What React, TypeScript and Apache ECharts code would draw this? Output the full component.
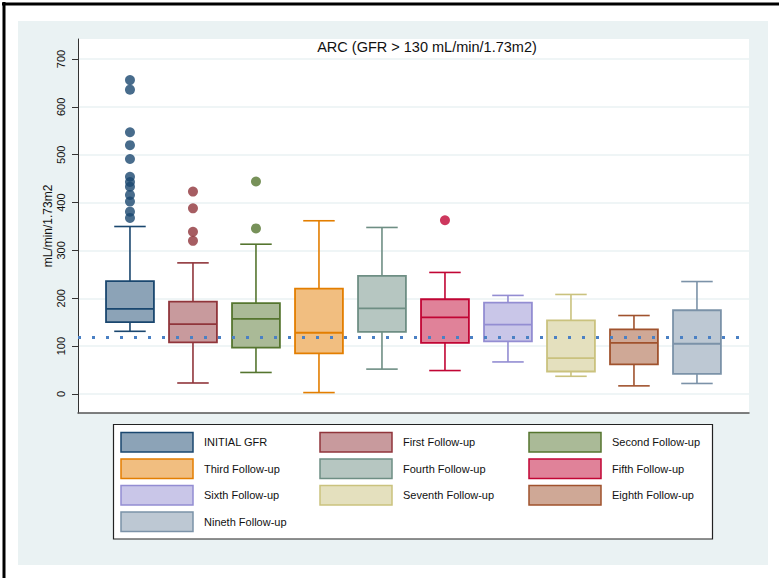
import { useEffect, useRef } from "react";
import * as echarts from "echarts";

// Groups shown along the x axis (one box per visit)
const groups = [
  "INITIAL GFR",
  "First Follow-up",
  "Second Follow-up",
  "Third Follow-up",
  "Fourth Follow-up",
  "Fifth Follow-up",
  "Sixth Follow-up",
  "Seventh Follow-up",
  "Eighth Follow-up",
  "Nineth Follow-up",
];

// Box statistics per group (mL/min/1.73m2)
const lowerWhisker = [131, 23, 45, 3, 52, 49, 67, 37, 17, 22];
const q1 = [150, 108, 97, 85, 130, 107, 110, 47, 62, 42];
const median = [178, 146, 157, 128, 179, 160, 145, 75, 107, 105];
const q3 = [236, 193, 190, 220, 247, 198, 191, 154, 135, 175];
const upperWhisker = [350, 274, 313, 362, 348, 254, 206, 208, 164, 235];

// Outside values per group
const outliers: number[][] = [
  [656, 636, 547, 520, 491, 454, 443, 433, 416, 402, 381, 368],
  [423, 388, 339, 320],
  [444, 346],
  [],
  [],
  [363],
  [],
  [],
  [],
  [],
];

const yTicks = [0, 100, 200, 300, 400, 500, 600, 700];
const referenceValue = 118;

const chartTitle = "ARC (GFR > 130 mL/min/1.73m2)";
const yAxisTitle = "mL/min/1.73m2";

// Stata s2color palette: outline colour and 50% tint for the fill
const lineColors = [
  "#1a476f",
  "#90353b",
  "#55752f",
  "#e37e00",
  "#6e8e84",
  "#c10534",
  "#938dd2",
  "#cac27e",
  "#a0522d",
  "#7b92a8",
];
const fillColors = [
  "#8ca3b7",
  "#c89a9d",
  "#aaba97",
  "#f1be80",
  "#b6c6c1",
  "#e08299",
  "#c9c6e8",
  "#e4e0be",
  "#cfa896",
  "#bdc8d3",
];

const FONT = "'Liberation Sans', Arial, Helvetica, sans-serif";

export default function App() {
  const ref = useRef<HTMLDivElement>(null);

  useEffect(() => {
    if (!ref.current) return;
    const chart = echarts.init(ref.current, undefined, { renderer: "svg" });

    const boxData = groups.map((_, i) => [
      i,
      lowerWhisker[i],
      q1[i],
      median[i],
      q3[i],
      upperWhisker[i],
    ]);

    const outlierData: any[] = [];
    outliers.forEach((vals, i) =>
      vals.forEach((v) =>
        outlierData.push({ value: [i, v], itemStyle: { color: lineColors[i] } })
      )
    );

    const xMin = -0.825;
    const xMax = 9.826;

    // Legend: three columns of swatch + label inside a framed box
    const legendCols = [121, 320, 529];
    const legendRows = [432.5, 459, 485.5, 512];
    const swW = 72;
    const swH = 19.5;
    const legendChildren: any[] = [
      {
        type: "rect",
        shape: { x: 113.5, y: 424.5, width: 599, height: 114.5 },
        style: { fill: "#ffffff", stroke: "#222", lineWidth: 1.2 },
      },
    ];
    groups.forEach((name, k) => {
      const col = k % 3;
      const row = Math.floor(k / 3);
      const x = legendCols[col];
      const y = legendRows[row];
      legendChildren.push({
        type: "rect",
        shape: { x, y, width: swW, height: swH },
        style: { fill: fillColors[k], stroke: lineColors[k], lineWidth: 1.5 },
      });
      legendChildren.push({
        type: "text",
        x: x + 83,
        y: y + swH / 2,
        style: {
          text: name,
          fill: "#111",
          font: `11px ${FONT}`,
          textVerticalAlign: "middle",
          textAlign: "left",
        },
      });
    });

    chart.setOption({
      animation: false,
      backgroundColor: "#ffffff",
      textStyle: { fontFamily: FONT },
      graphic: [
        {
          type: "rect",
          z: -10,
          shape: { x: 18, y: 21, width: 750, height: 544 },
          style: { fill: "#eaf2f3" },
        },
        {
          type: "line",
          z: 10,
          shape: { x1: 2, y1: 4, x2: 779, y2: 4 },
          style: { stroke: "#000", lineWidth: 3 },
        },
        {
          type: "line",
          z: 10,
          shape: { x1: 4, y1: 2, x2: 4, y2: 578 },
          style: { stroke: "#000", lineWidth: 3 },
        },
        {
          type: "text",
          z: 10,
          x: 427,
          y: 47,
          style: {
            text: chartTitle,
            fill: "#111",
            font: `14.5px ${FONT}`,
            textAlign: "center",
            textVerticalAlign: "middle",
          },
        },
        { type: "group", z: 10, children: legendChildren },
      ],
      grid: {
        left: 78,
        top: 39,
        width: 671,
        height: 374,
        show: true,
        backgroundColor: "#ffffff",
        borderWidth: 0,
      },
      xAxis: {
        type: "value",
        min: xMin,
        max: xMax,
        axisLine: { show: true, onZero: false, lineStyle: { color: "#555", width: 1.5 } },
        axisTick: { show: false },
        axisLabel: { show: false },
        splitLine: { show: false },
      },
      yAxis: {
        type: "value",
        min: -39.7,
        max: 741.8,
        name: yAxisTitle,
        nameLocation: "middle",
        nameGap: 24,
        nameMoveOverlap: false,
        nameTextStyle: { fontSize: 12, color: "#111", fontFamily: FONT },
        axisLine: { show: true, onZero: false, lineStyle: { color: "#333", width: 1 } },
        axisTick: {
          show: true,
          length: 6,
          customValues: yTicks,
          lineStyle: { color: "#333", width: 1 },
        },
        axisLabel: {
          show: true,
          customValues: yTicks,
          rotate: 90,
          margin: 12,
          fontSize: 11,
          color: "#111",
          fontFamily: FONT,
        },
        splitLine: { show: true, lineStyle: { color: "#eaf2f3", width: 1.5 } },
      },
      series: [
        {
          type: "custom",
          z: 2,
          data: boxData,
          encode: { x: 0, y: [1, 2, 3, 4, 5] },
          renderItem: (params: any, api: any) => {
            const i = api.value(0);
            const lo = api.value(1);
            const b1 = api.value(2);
            const md = api.value(3);
            const b3 = api.value(4);
            const hi = api.value(5);
            const xc = api.coord([i, 0])[0];
            const step = api.size([1, 0])[0];
            const half = step * 0.38;
            const capHalf = step * 0.25;
            const y = (v: number) => api.coord([i, v])[1];
            const idx = params.dataIndex;
            const stroke = lineColors[idx];
            const fill = fillColors[idx];
            const ls = { stroke, lineWidth: 1.6 };
            return {
              type: "group",
              children: [
                { type: "line", shape: { x1: xc, y1: y(hi), x2: xc, y2: y(b3) }, style: ls },
                { type: "line", shape: { x1: xc, y1: y(b1), x2: xc, y2: y(lo) }, style: ls },
                { type: "line", shape: { x1: xc - capHalf, y1: y(hi), x2: xc + capHalf, y2: y(hi) }, style: ls },
                { type: "line", shape: { x1: xc - capHalf, y1: y(lo), x2: xc + capHalf, y2: y(lo) }, style: ls },
                {
                  type: "rect",
                  shape: { x: xc - half, y: y(b3), width: half * 2, height: y(b1) - y(b3) },
                  style: { fill, stroke, lineWidth: 1.8 },
                },
                { type: "line", shape: { x1: xc - half, y1: y(md), x2: xc + half, y2: y(md) }, style: { stroke, lineWidth: 1.8 } },
              ],
            };
          },
        },
        {
          type: "scatter",
          z: 3,
          symbol: "circle",
          symbolSize: 10,
          data: outlierData,
        },
        {
          type: "line",
          z: 4,
          symbol: "none",
          silent: true,
          data: [
            [xMin, referenceValue],
            [xMax, referenceValue],
          ],
          lineStyle: { color: "#4a80c4", width: 3, type: [3, 11], cap: "butt" },
        },
      ],
    });

    return () => chart.dispose();
  }, []);

  return (
    <div
      ref={ref}
      style={{ position: "fixed", left: 0, top: 0, width: 779, height: 578 }}
    />
  );
}
